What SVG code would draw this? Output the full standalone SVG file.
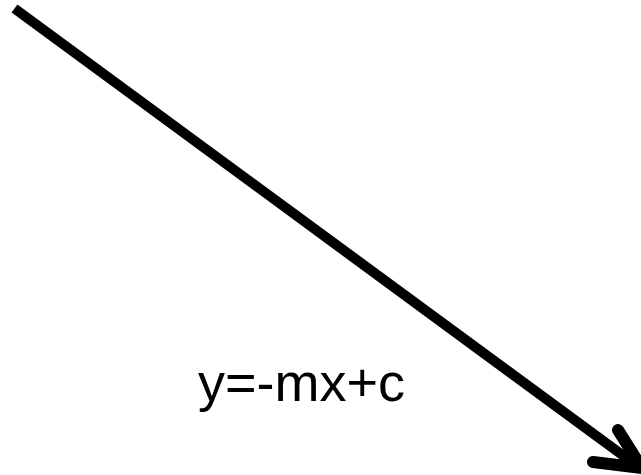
<svg xmlns="http://www.w3.org/2000/svg" width="641" height="475" viewBox="0 0 641 475">
<style>
.ln{stroke:#000;stroke-width:10;fill:none}
.hd{stroke:#000;stroke-width:12;fill:none;stroke-linecap:round;stroke-linejoin:round}
.lbl{font-family:"Liberation Sans",Arial,sans-serif;font-size:54px;fill:#000}
</style>
<rect width="641" height="475" fill="#fff"/>
<g id="connectors">
<line class="ln" x1="14.5" y1="8.5" x2="636" y2="465"/>
<polyline class="hd" points="618,430 642,468 593,462"/>
</g>
<g id="label">
<text class="lbl" x="198" y="401">y=-mx+c</text>
</g>
</svg>
